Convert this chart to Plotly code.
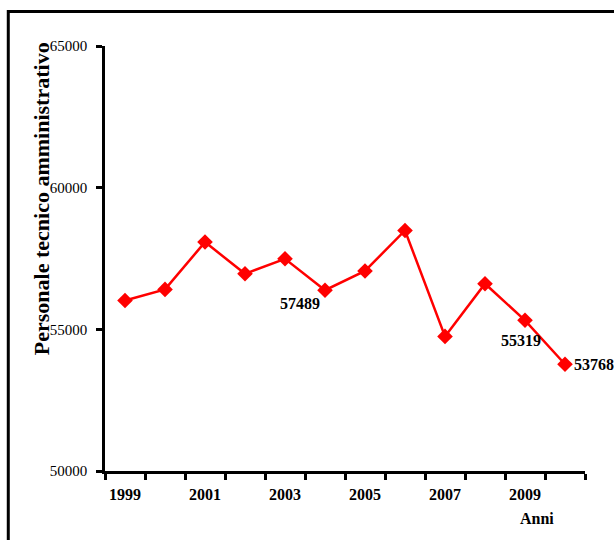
import plotly.graph_objects as go

# Personale tecnico amministrativo, 1999-2010
anni = [1999, 2000, 2001, 2002, 2003, 2004, 2005, 2006, 2007, 2008, 2009, 2010]
personale = [56020, 56410, 58080, 56960, 57489, 56380, 57060, 58490, 54750, 56610, 55319, 53768]

# values written next to selected points: (year, x offset px, y offset px, anchor)
etichette = [(2003, 15, -45, "center"), (2009, -4, -20, "center"), (2010, 7, 0, "left")]

anni_etichettati = [1999, 2001, 2003, 2005, 2007, 2009]

FONT = "Liberation Serif, Times New Roman, serif"

fig = go.Figure()
fig.add_trace(go.Scatter(
    x=anni, y=personale, mode="lines+markers",
    line=dict(color="#FF0000", width=2.5),
    marker=dict(symbol="diamond", size=12, color="#FF0000"),
    showlegend=False, hoverinfo="x+y",
))

for anno, dx, dy, anchor in etichette:
    v = personale[anni.index(anno)]
    fig.add_annotation(
        x=anno, y=v, text=f"<b>{v}</b>", showarrow=False,
        xanchor=anchor, yanchor="middle", xshift=dx, yshift=dy,
        font=dict(family=FONT, size=16, color="black"),
    )

fig.add_annotation(
    xref="paper", yref="paper", x=-0.133, y=0.64,
    text="<b>Personale tecnico amministrativo</b>", textangle=-90,
    showarrow=False, xanchor="center", yanchor="middle",
    font=dict(family=FONT, size=22, color="black"),
)
fig.add_annotation(
    xref="paper", yref="paper", x=0.899, y=-0.1106,
    text="<b>Anni</b>", showarrow=False, xanchor="center", yanchor="middle",
    font=dict(family=FONT, size=16, color="black"),
)

# outer frame (only left and top edges fall inside the page)
fig.add_shape(
    type="rect", xref="paper", yref="paper",
    x0=-0.2015, y0=-0.2, x1=1.1, y1=1.0812,
    line=dict(color="black", width=3), layer="below",
)

fig.update_xaxes(
    range=[1998.5, 2010.5],
    tickmode="array", tickvals=anni_etichettati,
    ticktext=[f"<b>{a}</b>" for a in anni_etichettati],
    ticks="", showgrid=False, zeroline=False,
    showline=True, linecolor="black", linewidth=2.5,
    ticklabelstandoff=7,
    tickfont=dict(family=FONT, size=16, color="black"),
    minor=dict(tickmode="linear", tick0=1998.5, dtick=1, ticks="outside",
               ticklen=6, tickwidth=2.5, tickcolor="black", showgrid=False),
)
fig.update_yaxes(
    range=[50000, 65000], dtick=5000, tick0=50000, tickformat="d",
    ticks="outside", ticklen=6, tickwidth=2.5, tickcolor="black",
    showgrid=False, zeroline=False,
    showline=True, linecolor="black", linewidth=2.5,
    ticklabelstandoff=6,
    tickfont=dict(family=FONT, size=15, color="black"),
)

fig.update_layout(
    width=614, height=540,
    margin=dict(l=105, r=29, t=46, b=69),
    plot_bgcolor="white", paper_bgcolor="white",
)

fig.write_html("out.html")
